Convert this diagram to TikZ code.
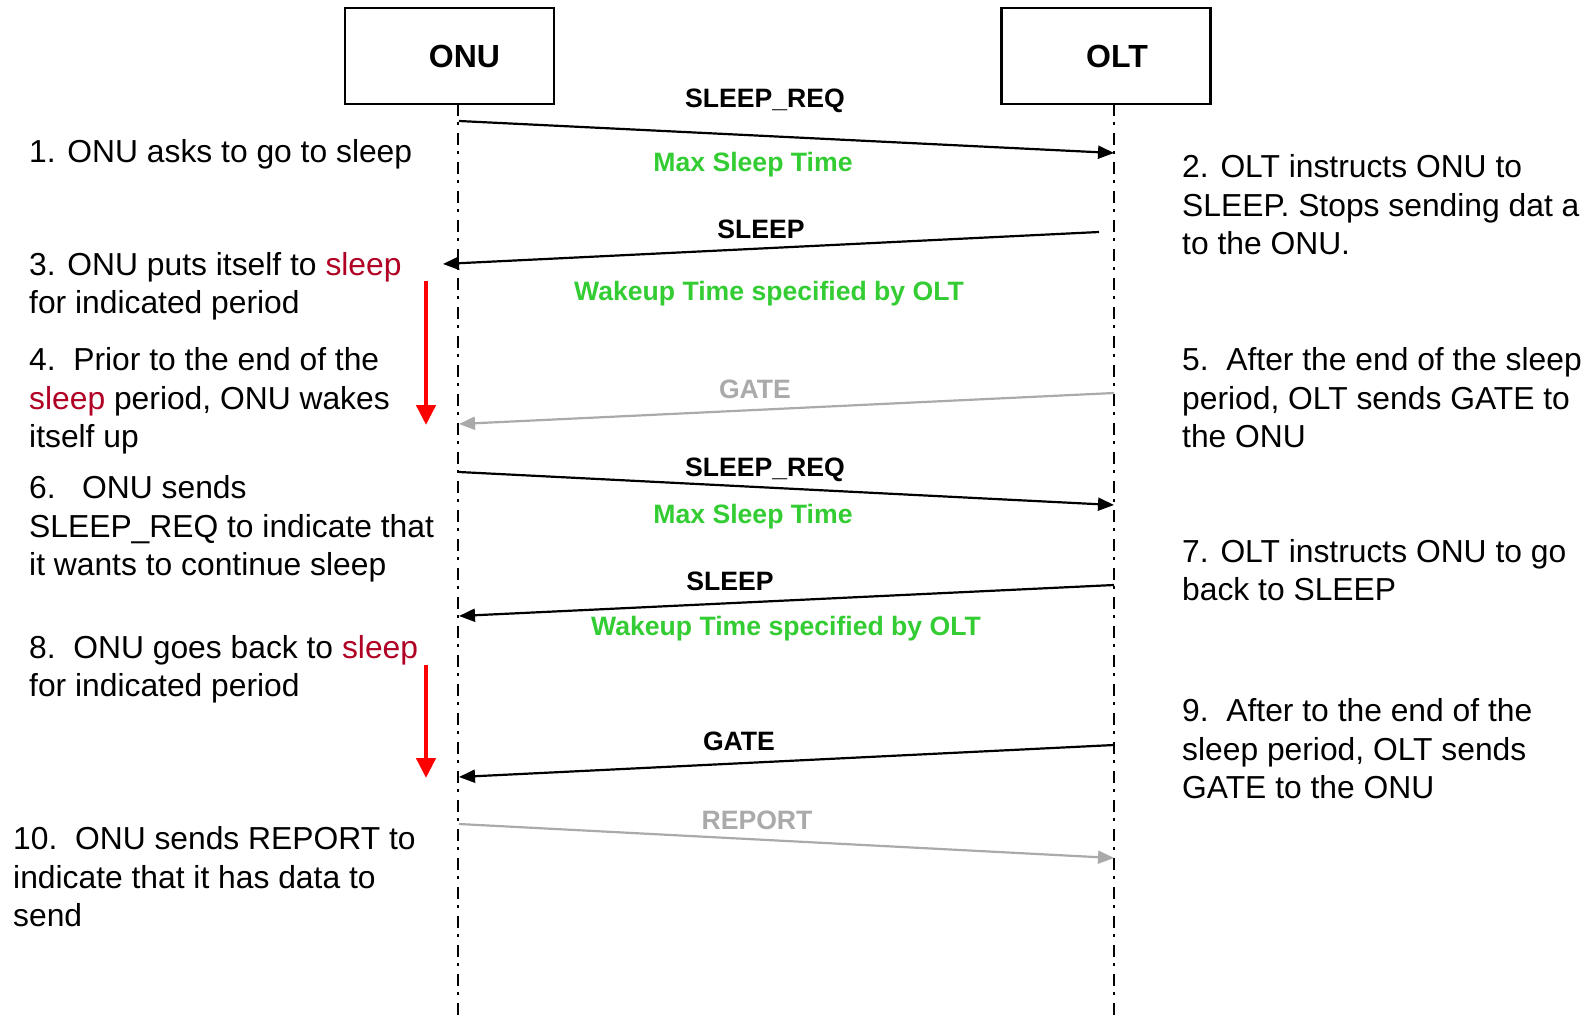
\documentclass[tikz,border=0pt]{standalone}
\usepackage{fontspec}
\setmainfont{Liberation Sans}
\usetikzlibrary{arrows.meta}
\definecolor{sleepred}{RGB}{176,0,36}
\definecolor{lblgreen}{RGB}{51,204,51}
\definecolor{lgray}{RGB}{170,170,170}
\tikzset{
  entity/.style={draw, line width=2.6pt, minimum width=209pt, minimum height=96pt, inner sep=0pt, font=\fontsize{32}{36}\selectfont\bfseries},
  lifeline/.style={line width=2.6pt, dash pattern=on 12pt off 6pt on 3pt off 8pt},
  msg/.style={line width=2.2pt, -{Triangle[length=16pt,width=13pt]}},
  graymsg/.style={msg, draw=lgray},
  redarrow/.style={draw=red, line width=4.5pt, -{Triangle[length=20pt,width=19pt]}},
  lbl/.style={font=\fontsize{26.6}{30}\selectfont\bfseries, inner sep=0pt},
  greenlbl/.style={lbl, text=lblgreen},
  graylbl/.style={lbl, text=lgray},
  note/.style={font=\fontsize{31.8}{38.4}\selectfont, align=left, inner sep=0pt, anchor=west},
}
\newcommand{\slp}{\textcolor{sleepred}{sleep}}
\begin{document}
\begin{tikzpicture}[x=1pt,y=-1pt]
\useasboundingbox (0,0) rectangle (1592,1019);
% entities
\node[entity] (onu) at (449.5,56) {\hspace*{30pt}ONU};
\node[entity] (olt) at (1106,56) {\hspace*{22pt}OLT};
\coordinate (onutop) at (458,104);
\coordinate (onubot) at (458,1019);
\coordinate (olttop) at (1114,104);
\coordinate (oltbot) at (1114,1019);
\draw[lifeline] (onutop) -- (onubot);
\draw[lifeline] (olttop) -- (oltbot);
% message end points
\coordinate (m1s) at (459,121);  \coordinate (m1e) at (1114,153);
\coordinate (m2s) at (1099,232); \coordinate (m2e) at (443,264);
\coordinate (m3s) at (1114,393); \coordinate (m3e) at (459,424);
\coordinate (m4s) at (459,472);  \coordinate (m4e) at (1114,505);
\coordinate (m5s) at (1114,585); \coordinate (m5e) at (459,616);
\coordinate (m6s) at (1114,745); \coordinate (m6e) at (459,777);
\coordinate (m7s) at (459,824);  \coordinate (m7e) at (1114,858);
\draw[msg] (m1s) -- (m1e);
\draw[msg] (m2s) -- (m2e);
\draw[graymsg] (m3s) -- (m3e);
\draw[msg] (m4s) -- (m4e);
\draw[msg] (m5s) -- (m5e);
\draw[msg] (m6s) -- (m6e);
\draw[graymsg] (m7s) -- (m7e);
% message labels
\node[lbl] (l1) at (765,101) {SLEEP\_REQ};
\node[greenlbl] (g1) at (753,165) {Max Sleep Time};
\node[lbl] (l2) at (761,229) {SLEEP};
\node[greenlbl] (g2) at (769,294) {Wakeup Time specified by OLT};
\node[graylbl] (l3) at (755,389) {GATE};
\node[lbl] (l4) at (765,470) {SLEEP\_REQ};
\node[greenlbl] (g4) at (753,517) {Max Sleep Time};
\node[lbl] (l5) at (730,581) {SLEEP};
\node[greenlbl] (g5) at (786,629) {Wakeup Time specified by OLT};
\node[lbl] (l6) at (739,741) {GATE};
\node[graylbl] (l7) at (757,820) {REPORT};
% red arrows
\coordinate (r1s) at (426,281); \coordinate (r1e) at (426,425);
\coordinate (r2s) at (426,665); \coordinate (r2e) at (426,778);
\draw[redarrow] (r1s) -- (r1e);
\draw[redarrow] (r2s) -- (r2e);
% left notes
\node[note] (n1) at (29,154) {1. ONU asks to go to sleep};
\node[note] (n3) at (29,286) {3. ONU puts itself to \slp\\for indicated period};
\node[note] (n4) at (29,401) {4.\ \ Prior to the end of the\\\slp{} period, ONU wakes\\itself up};
\node[note] (n6) at (29,529) {6.\ \ \ ONU sends\\SLEEP\_REQ to indicate that\\it wants to continue sleep};
\node[note] (n8) at (29,669) {8.\ \ ONU goes back to \slp\\for indicated period};
\node[note] (n10) at (13,877) {10.\ \ ONU sends REPORT to\\indicate that it has data to\\send};
% right notes
\node[note] (n2) at (1182,205) {2. OLT instructs ONU to\\SLEEP. Stops sending dat a\\to the ONU.};
\node[note] (n5) at (1182,398) {5.\ \ After the end of the sleep\\period, OLT sends GATE to\\the ONU};
\node[note] (n7) at (1182,570) {7. OLT instructs ONU to go\\back to SLEEP};
\node[note] (n9) at (1182,749) {9.\ \ After to the end of the\\sleep period, OLT sends\\GATE to the ONU};
\end{tikzpicture}
\end{document}
